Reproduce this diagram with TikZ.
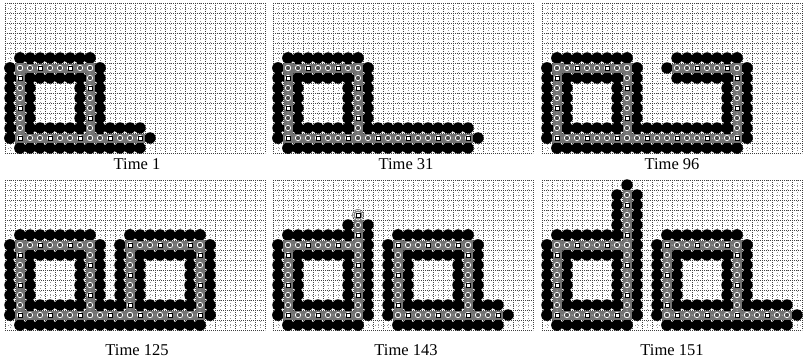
\documentclass[tikz,border=0pt]{standalone}
\usepackage{fontspec}
\setmainfont{Liberation Serif}
\tikzset{
  blob/.style={fill=black},
  gl/.style={black!75, line width=0.5pt, dash pattern=on 0.8pt off 1.2pt},
  gl2/.style={black!40, line width=0.4pt, dash pattern=on 0.6pt off 2.4pt},
  chainbg/.style={fill=black!55},
  ring/.style={draw=white, fill=black!70, line width=0.7pt},
  sq/.style={fill=white, draw=black, line width=0.6pt},
  half/.style={fill=white, draw=black!70, line width=0.3pt},
  tipring/.style={draw=black!50, line width=1.3pt},
  lbl/.style={font=\fontsize{16.5}{16.5}\selectfont, anchor=base}
}
\newcommand\br{0.57}
% black neighbours of a horizontal run i=#1..#2 at row #3
\newcommand\BH[3]{%
  \foreach \i in {#1,...,#2}{\fill[blob] (\i,#3-1) circle[radius=\br]; \fill[blob] (\i,#3+1) circle[radius=\br];}
  \fill[blob] (#1-1,#3) circle[radius=\br]; \fill[blob] (#2+1,#3) circle[radius=\br];}
% black neighbours of a vertical run at column #1, rows #2..#3
\newcommand\BV[3]{%
  \foreach \j in {#2,...,#3}{\fill[blob] (#1-1,\j) circle[radius=\br]; \fill[blob] (#1+1,\j) circle[radius=\br];}
  \fill[blob] (#1,#2-1) circle[radius=\br]; \fill[blob] (#1,#3+1) circle[radius=\br];}
% grey band under chain
\newcommand\WH[3]{\fill[chainbg] (#1-0.5,#3-0.45) rectangle (#2+0.5,#3+0.45);}
\newcommand\WV[3]{\fill[chainbg] (#1-0.45,#2-0.5) rectangle (#1+0.45,#3+0.5);}
% chain symbol
\newcommand\sym[2]{%
  \filldraw[ring] (#1,#2) circle[radius=0.27];
  \pgfmathtruncatemacro\s{mod(#1*7+#2*5,3)}%
  \ifnum\s=0 \filldraw[sq] (#1-0.22,#2-0.22) rectangle (#1+0.22,#2+0.22);\fi}
\newcommand\SH[3]{%
  \foreach \i in {#1,...,#2}{\sym{\i}{#3}}
  \pgfmathtruncatemacro\e{#2-1}%
  \foreach \i in {#1,...,\e}{\filldraw[half] (\i+0.5,#3) circle[radius=0.12];}}
\newcommand\SV[3]{%
  \foreach \j in {#2,...,#3}{\sym{#1}{\j}}
  \pgfmathtruncatemacro\e{#3-1}%
  \foreach \j in {#2,...,\e}{\filldraw[half] (#1,\j+0.5) circle[radius=0.12];}}
\newcommand\panelgrid{%
  \foreach \k in {0,...,25}{\draw[gl2] (\k,-0.5) -- (\k,14.5);}
  \foreach \k in {0,...,14}{\draw[gl2] (-0.5,\k) -- (25.5,\k);}
  \foreach \k in {0,...,26}{\draw[gl] (\k-0.5,-0.5) -- (\k-0.5,14.5);}
  \foreach \k in {0,...,15}{\draw[gl] (-0.5,\k-0.5) -- (25.5,\k-0.5);}}
\newcommand\drawshape[1]{#1\BH\BV #1\WH\WV #1\SH\SV}
% shapes
\newcommand\shA[2]{#1{1}{8}{6}#2{1}{6}{13}#2{8}{6}{13}#1{1}{13}{13}}
\newcommand\shB[2]{#1{1}{8}{6}#2{1}{6}{13}#2{8}{6}{13}#1{1}{19}{13}}
\newcommand\shC[2]{#1{1}{8}{6}#2{1}{6}{13}#2{8}{6}{13}#1{1}{19}{13}#2{19}{6}{13}#1{13}{19}{6}}
\newcommand\shD[2]{#1{1}{8}{6}#2{1}{6}{13}#2{8}{6}{13}#1{1}{19}{13}#2{19}{6}{13}#1{12}{19}{6}#2{12}{6}{13}}
\newcommand\shE[2]{#1{1}{8}{6}#2{1}{6}{13}#2{8}{4}{13}#1{1}{8}{13}#1{12}{19}{6}#2{12}{6}{13}#2{19}{6}{13}#1{12}{22}{13}}
\newcommand\shF[2]{#1{1}{8}{6}#2{1}{6}{13}#2{8}{1}{13}#1{1}{8}{13}#1{12}{19}{6}#2{12}{6}{13}#2{19}{6}{13}#1{12}{24}{13}}
\begin{document}
\begin{tikzpicture}[x=1pt,y=-1pt]
\useasboundingbox[fill=white] (0,0) rectangle (805,361);
\begin{scope}[xshift=10pt,yshift=-8pt,x=10pt,y=-10pt]
  \panelgrid \drawshape\shA
\end{scope}
\begin{scope}[xshift=278pt,yshift=-8pt,x=10pt,y=-10pt]
  \panelgrid \drawshape\shB
\end{scope}
\begin{scope}[xshift=547pt,yshift=-8pt,x=10pt,y=-10pt]
  \panelgrid \drawshape\shC
\end{scope}
\begin{scope}[xshift=10pt,yshift=-185pt,x=10pt,y=-10pt]
  \panelgrid \drawshape\shD
\end{scope}
\begin{scope}[xshift=278pt,yshift=-185pt,x=10pt,y=-10pt]
  \panelgrid \drawshape\shE
  \fill[white] (8,3) circle[radius=0.55];
  \draw[tipring] (8,3) circle[radius=0.4];
  \filldraw[sq] (8-0.2,3-0.2) rectangle (8+0.2,3+0.2);
\end{scope}
\begin{scope}[xshift=547pt,yshift=-185pt,x=10pt,y=-10pt]
  \panelgrid \drawshape\shF
\end{scope}
\node[lbl] (t1) at (137,169) {Time 1};
\node[lbl] (t2) at (406,169) {Time 31};
\node[lbl] (t3) at (672,169) {Time 96};
\node[lbl] (t4) at (137,355) {Time 125};
\node[lbl] (t5) at (406,355) {Time 143};
\node[lbl] (t6) at (672,355) {Time 151};
\end{tikzpicture}
\end{document}
